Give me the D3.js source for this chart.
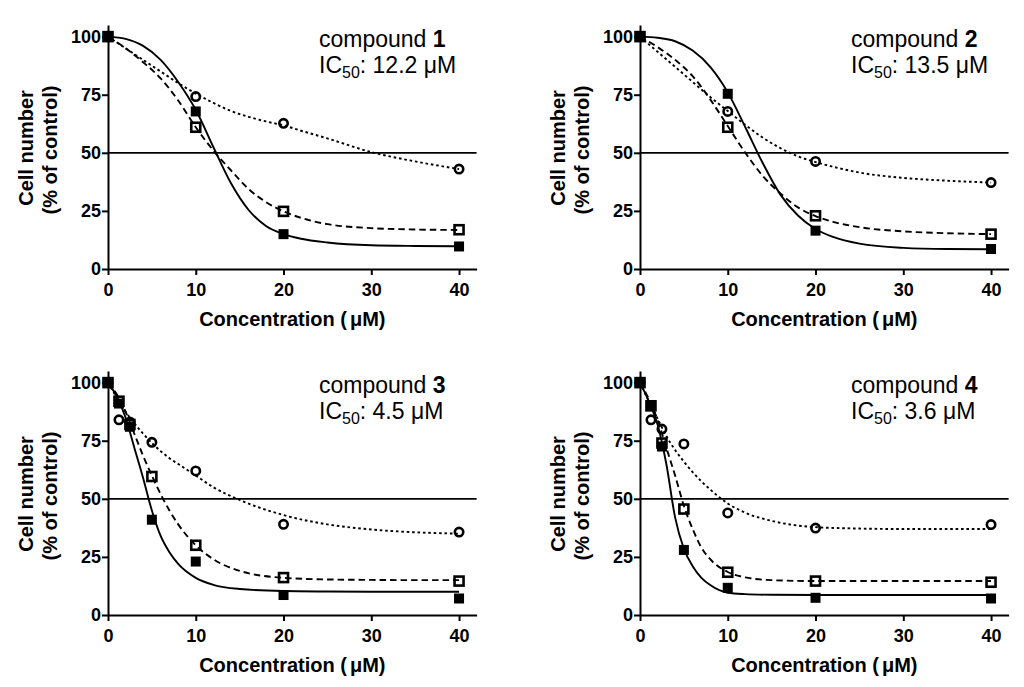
<!DOCTYPE html>
<html>
<head>
<meta charset="utf-8">
<script src="https://cdn.jsdelivr.net/npm/d3@7"></script>
<style>
  body { margin: 0; background: #fff; }
  text { font-family: "Liberation Sans", Arial, sans-serif; fill: #000; }
</style>
</head>
<body>
<div id="chart"></div>
<script>
// ---- data ----
var conc12 = [0, 10, 20, 40],
    conc34 = [0, 1.25, 2.5, 5, 10, 20, 40];

var compounds = ['1', '2', '3', '4'],
    ic50 = ['12.2', '13.5', '4.5', '3.6'];

var xTicks = [0, 10, 20, 30, 40],
    yTicks = [0, 25, 50, 75, 100];

// measured points (filled square, open square, open circle)
var filled1 = [100, 67.8, 15, 9.7],
    open1   = [100, 61, 24.8, 16.9],
    circ1   = [100, 74.2, 62.7, 43];
var filled2 = [100, 75.4, 16.5, 8.6],
    open2   = [100, 61, 22.9, 15],
    circ2   = [100, 67.8, 46.3, 37.2];
var filled3 = [100, 91, 81, 41, 23, 8.6, 7.1],
    open3   = [100, 92, 82, 59.6, 30, 16.1, 14.6],
    circ3   = [100, 84, 83, 74.3, 62, 39, 35.7];
var filled4 = [100, 90.3, 72.5, 28, 11.7, 7.4, 7.1],
    open4   = [100, 90, 74, 45.6, 18.4, 14.6, 14.1],
    circ4   = [100, 84, 80, 73.6, 43.9, 37.4, 38.9];

// fitted curves
var fitX12 = [0, 2, 4, 6, 8, 10, 12, 14, 16, 18, 20, 22, 25, 30, 35, 40],
    fitX34 = [0, 1, 2, 3, 4, 5, 6, 7, 8, 10, 12, 15, 20, 25, 30, 35, 40];

var solid1 = [100, 99, 96, 90, 80.5, 68.5, 52.5, 37, 25.5, 18.5, 15, 13, 11.4, 10.2, 9.9, 9.8],
    dash1  = [100, 95, 89, 82, 72.5, 61, 51, 42.5, 34.5, 28.8, 24.8, 22, 19.3, 17.6, 17, 16.8],
    dot1   = [100, 95, 90, 85, 80, 75.5, 71.5, 68, 65.5, 63.5, 61.8, 59.5, 56.2, 50.3, 46.3, 43];
var solid2 = [100, 99.5, 98, 94, 87, 76, 61, 45.5, 32, 23, 17.2, 13.8, 10.9, 9.1, 8.6, 8.5],
    dash2  = [100, 95.5, 90, 83, 73, 61.5, 50, 40, 32.5, 26.5, 22.8, 20.3, 18, 16.2, 15.4, 15],
    dot2   = [100, 93.5, 87, 80.5, 74, 68, 62, 56.5, 52, 48.5, 46, 44, 41.5, 39.2, 38, 37.2];
var solid3 = [100, 94, 85, 72, 59, 45, 34, 27, 22, 16, 13, 11.2, 10.3, 10.1, 10, 10, 10],
    dash3  = [100, 95, 87.5, 78, 68.5, 60, 52, 45, 39, 30, 24, 19, 16, 15.3, 15.1, 15, 15],
    dot3   = [100, 93.5, 87.5, 82.5, 78, 74, 70.5, 67.5, 65, 60, 55, 49.5, 43, 39, 36.8, 35.6, 35];
var solid4 = [100, 92, 82, 65, 42, 28.5, 21, 16, 12.9, 9.6, 9, 8.7, 8.6, 8.6, 8.6, 8.6, 8.6],
    dash4  = [100, 93, 84, 72, 60, 47, 37, 29, 24, 18.5, 16.2, 15, 14.6, 14.6, 14.6, 14.6, 14.6],
    dot4   = [100, 92, 84.5, 77, 71, 66, 61.5, 57.5, 54, 48, 44, 40.5, 37.8, 37.2, 37, 37, 37];

var panels = [
  { conc: conc12, filled: filled1, open: open1, circ: circ1, fitX: fitX12, solid: solid1, dash: dash1, dot: dot1 },
  { conc: conc12, filled: filled2, open: open2, circ: circ2, fitX: fitX12, solid: solid2, dash: dash2, dot: dot2 },
  { conc: conc34, filled: filled3, open: open3, circ: circ3, fitX: fitX34, solid: solid3, dash: dash3, dot: dot3 },
  { conc: conc34, filled: filled4, open: open4, circ: circ4, fitX: fitX34, solid: solid4, dash: dash4, dot: dot4 }
];

// ---- layout ----
var width = 1024, height = 687;
var offX = [0, 532, 0, 532],
    offY = [0, 0, 346, 346];

var svg = d3.select('#chart').append('svg')
  .attr('width', width)
  .attr('height', height);

var x = d3.scaleLinear().domain([0, 42]).range([108, 476.6]);
var y = d3.scaleLinear().domain([0, 105]).range([269, 25]);

var line = d3.line()
  .x(function(d){ return x(d[0]); })
  .y(function(d){ return y(d[1]); })
  .curve(d3.curveMonotoneX);

function pairs(xs, ys) {
  return xs.map(function(v, i){ return [v, ys[i]]; });
}

panels.forEach(function(p, i){
  var g = svg.append('g')
    .attr('transform', 'translate(' + offX[i] + ',' + offY[i] + ')');

  // axes
  var xAxis = g.append('g')
    .attr('transform', 'translate(0,' + y(0) + ')')
    .call(d3.axisBottom(x).tickValues(xTicks).tickSize(6).tickSizeOuter(0).tickPadding(8));
  var yAxis = g.append('g')
    .attr('transform', 'translate(' + x(0) + ',0)')
    .call(d3.axisLeft(y).tickValues(yTicks).tickSize(6).tickSizeOuter(0).tickPadding(1));

  [xAxis, yAxis].forEach(function(ax){
    ax.select('.domain').attr('stroke', '#000').attr('stroke-width', 2);
    ax.selectAll('.tick line').attr('stroke', '#000').attr('stroke-width', 2);
    ax.selectAll('.tick text')
      .attr('font-family', '"Liberation Sans", Arial, sans-serif')
      .attr('font-size', 18)
      .attr('font-weight', 'bold')
      .attr('fill', '#000');
  });

  // 50 % reference line
  g.append('line')
    .attr('x1', x(0)).attr('x2', x(42))
    .attr('y1', y(50)).attr('y2', y(50))
    .attr('stroke', '#000')
    .attr('stroke-width', 1.8);

  // axis titles
  var xt = g.append('text')
    .attr('x', (x(0) + x(42)) / 2)
    .attr('y', 326)
    .attr('text-anchor', 'middle')
    .attr('font-size', 20)
    .attr('font-weight', 'bold')
    .text('Concentration (');
  xt.append('tspan').attr('dx', 3).text('μM)');

  g.append('text')
    .attr('transform', 'translate(33,148) rotate(-90)')
    .attr('text-anchor', 'middle')
    .attr('font-size', 20)
    .attr('font-weight', 'bold')
    .text('Cell number');
  g.append('text')
    .attr('transform', 'translate(57,150) rotate(-90)')
    .attr('text-anchor', 'middle')
    .attr('font-size', 20)
    .attr('font-weight', 'bold')
    .text('(% of control)');

  // annotation
  var t1 = g.append('text')
    .attr('x', 319).attr('y', 47)
    .attr('font-size', 23)
    .text('compound ');
  t1.append('tspan').attr('font-weight', 'bold').text(compounds[i]);

  var t2 = g.append('text')
    .attr('x', 319).attr('y', 73)
    .attr('font-size', 23)
    .text('IC');
  t2.append('tspan').attr('font-size', 16).attr('dy', 5).text('50');
  t2.append('tspan').attr('dy', -5).text(': ' + ic50[i] + ' μM');

  // fitted curves
  g.append('path')
    .attr('d', line(pairs(p.fitX, p.dot)))
    .attr('fill', 'none').attr('stroke', '#000')
    .attr('stroke-width', 1.9)
    .attr('stroke-dasharray', '2.6,2.8');
  g.append('path')
    .attr('d', line(pairs(p.fitX, p.dash)))
    .attr('fill', 'none').attr('stroke', '#000')
    .attr('stroke-width', 1.9)
    .attr('stroke-dasharray', '6.5,4');
  g.append('path')
    .attr('d', line(pairs(p.fitX, p.solid)))
    .attr('fill', 'none').attr('stroke', '#000')
    .attr('stroke-width', 1.9);

  // markers
  g.selectAll('.open')
    .data(pairs(p.conc, p.open))
    .enter().append('rect').attr('class', 'open')
      .attr('x', function(d){ return x(d[0]) - 4.5; })
      .attr('y', function(d){ return y(d[1]) - 4.5; })
      .attr('width', 9).attr('height', 9)
      .attr('fill', 'none').attr('stroke', '#000').attr('stroke-width', 2.6);

  g.selectAll('.circ')
    .data(pairs(p.conc, p.circ))
    .enter().append('circle').attr('class', 'circ')
      .attr('cx', function(d){ return x(d[0]); })
      .attr('cy', function(d){ return y(d[1]); })
      .attr('r', 4.2)
      .attr('fill', 'none').attr('stroke', '#000').attr('stroke-width', 2.6);

  g.selectAll('.filled')
    .data(pairs(p.conc, p.filled))
    .enter().append('rect').attr('class', 'filled')
      .attr('x', function(d){ return x(d[0]) - 5; })
      .attr('y', function(d){ return y(d[1]) - 5; })
      .attr('width', 10).attr('height', 10)
      .attr('fill', '#000');
});
</script>
</body>
</html>
